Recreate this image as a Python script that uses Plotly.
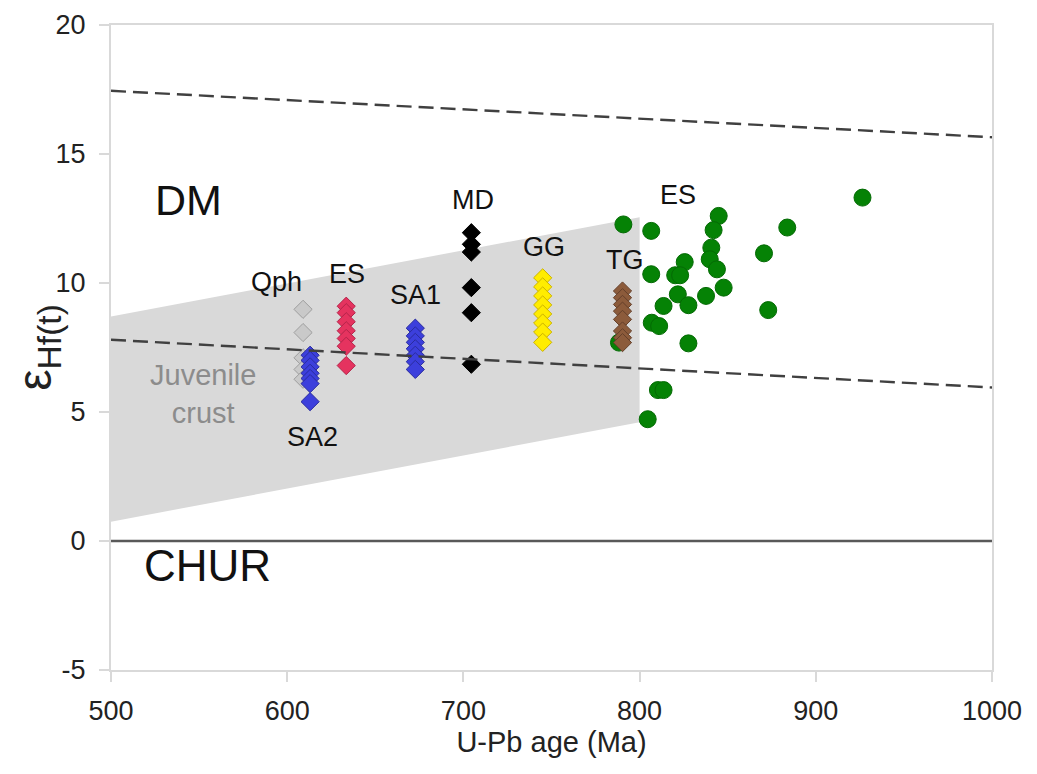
import plotly.graph_objects as go

# ---------------- data ----------------
crust_x = [500, 800, 800, 500]
crust_y = [8.7, 12.55, 4.6, 0.75]

dm_x = [500, 1000]
dm_y = [17.45, 15.65]
juv_x = [500, 1000]
juv_y = [7.8, 5.95]
chur_x = [500, 1000]
chur_y = [0, 0]

qph_age = [609, 609, 609, 609, 609]
qph_eps = [8.98, 8.08, 7.1, 6.65, 6.27]

sa2_age = [613, 613, 613, 613, 613, 613, 613]
sa2_eps = [7.2, 7.0, 6.75, 6.5, 6.3, 6.1, 5.4]

es_age = [633.5, 633.5, 633.5, 633.5, 633.5, 633.5, 633.5]
es_eps = [9.1, 8.85, 8.5, 8.15, 7.85, 7.55, 6.8]

sa1_age = [672.7, 672.7, 672.7, 672.7, 672.7, 672.7, 672.7]
sa1_eps = [8.25, 7.95, 7.7, 7.45, 7.2, 6.95, 6.65]

md_age = [704.5, 704.5, 704.5, 704.5, 704.5, 704.5]
md_eps = [11.95, 11.5, 11.2, 9.82, 8.85, 6.85]

gg_age = [745, 745, 745, 745, 745, 745, 745, 745]
gg_eps = [10.2, 9.85, 9.5, 9.15, 8.8, 8.45, 8.1, 7.7]

tg_age = [790.3, 790.3, 790.3, 790.3, 790.3, 790.3, 790.3, 790.3]
tg_eps = [9.69, 9.43, 9.17, 8.91, 8.59, 8.14, 7.88, 7.69]

esg_age = [790.8, 806.6, 844.9, 842.0, 840.7, 839.8, 843.9, 847.7, 837.7, 825.6,
           820.2, 823.0, 806.6, 821.7, 827.7, 813.6, 806.9, 811.1, 827.7, 870.6,
           883.8, 926.5, 873.0, 810.4, 813.6, 804.6, 788.3]
esg_eps = [12.27, 12.02, 12.6, 12.05, 11.37, 10.92, 10.53, 9.82, 9.5, 10.81,
           10.3, 10.3, 10.34, 9.56, 9.14, 9.11, 8.46, 8.33, 7.66, 11.15,
           12.15, 13.31, 8.95, 5.85, 5.85, 4.72, 7.69]

x_ticks = [500, 600, 700, 800, 900, 1000]
y_ticks = [-5, 0, 5, 10, 15, 20]

FONT = "Liberation Sans, Arial, sans-serif"

fig = go.Figure()

# juvenile crust field
fig.add_trace(go.Scatter(x=crust_x, y=crust_y, fill="toself", fillcolor="#d9d9d9",
                         mode="lines", line=dict(width=0), hoverinfo="skip"))
# CHUR
fig.add_trace(go.Scatter(x=chur_x, y=chur_y, mode="lines",
                         line=dict(color="#595959", width=2.5)))

DSIZE = 14


def diamonds(x, y, fill, edge):
    fig.add_trace(go.Scatter(x=x, y=y, mode="markers",
                             marker=dict(symbol="diamond", size=DSIZE, color=fill,
                                         line=dict(color=edge, width=1))))


diamonds(qph_age, qph_eps, "#c9c9c9", "#9e9e9e")
diamonds(sa2_age, sa2_eps, "#3c3fdc", "#2a2c9e")
diamonds(es_age, es_eps, "#e5335f", "#b3244a")
diamonds(sa1_age, sa1_eps, "#3c3fdc", "#2a2c9e")
diamonds(md_age, md_eps, "#000000", "#000000")
diamonds(gg_age, gg_eps, "#ffec00", "#cbb300")

fig.add_trace(go.Scatter(x=esg_age, y=esg_eps, mode="markers",
                         marker=dict(symbol="circle", size=17, color="#058205",
                                     line=dict(color="#046a04", width=1))))

diamonds(tg_age, tg_eps, "#8c5b3b", "#65402a")

# dashed evolution lines (drawn over the markers)
for xs, ys in [(dm_x, dm_y), (juv_x, juv_y)]:
    fig.add_trace(go.Scatter(x=xs, y=ys, mode="lines",
                             line=dict(color="#404040", width=2.4, dash="15px,7px")))

# ---------------- annotations ----------------
labels = [
    ("DM", 544, 13.2, 43, "#111111"),
    ("CHUR", 555, -0.95, 44, "#111111"),
    ("Qph", 594, 10.05, 27, "#111111"),
    ("ES", 634, 10.35, 27, "#111111"),
    ("SA2", 614.5, 4.05, 27, "#111111"),
    ("SA1", 673, 9.55, 27, "#111111"),
    ("MD", 705.5, 13.2, 27, "#111111"),
    ("GG", 745.5, 11.4, 27, "#111111"),
    ("TG", 791.5, 10.9, 27, "#111111"),
    ("ES", 822, 13.4, 27, "#111111"),
    ("Juvenile<br>crust", 552, 5.7, 29, "#8c8c8c"),
]
for txt, ax, ay, sz, col in labels:
    fig.add_annotation(x=ax, y=ay, xref="x", yref="y", text=txt, showarrow=False,
                       font=dict(family=FONT, size=sz, color=col),
                       xanchor="center", yanchor="middle")

axis_common = dict(showgrid=False, zeroline=False, showline=True, mirror=True,
                   linecolor="#d9d9d9", linewidth=2, ticks="outside", ticklen=10,
                   tickwidth=2, tickcolor="#d9d9d9",
                   tickfont=dict(family=FONT, size=27, color="#222222"))

fig.update_layout(
    width=1037, height=774,
    margin=dict(l=103, r=53, t=17, b=112),
    paper_bgcolor="white", plot_bgcolor="white",
    showlegend=False,
    xaxis=dict(range=[500, 1000], tickvals=x_ticks, ticktext=[str(v) for v in x_ticks],
               ticklabelstandoff=6,
               title=dict(text="U-Pb age (Ma)", font=dict(family=FONT, size=29, color="#222222"),
                          standoff=6),
               automargin=False, **axis_common),
    yaxis=dict(range=[-5, 20], tickvals=y_ticks, ticktext=[str(v) for v in y_ticks],
               ticklabelstandoff=8,
               title=dict(text="ε<sub>Hf(t)</sub>", font=dict(family=FONT, size=48, color="#222222"),
                          standoff=2),
               automargin=False, **axis_common),
)

fig.write_html("out.html")
